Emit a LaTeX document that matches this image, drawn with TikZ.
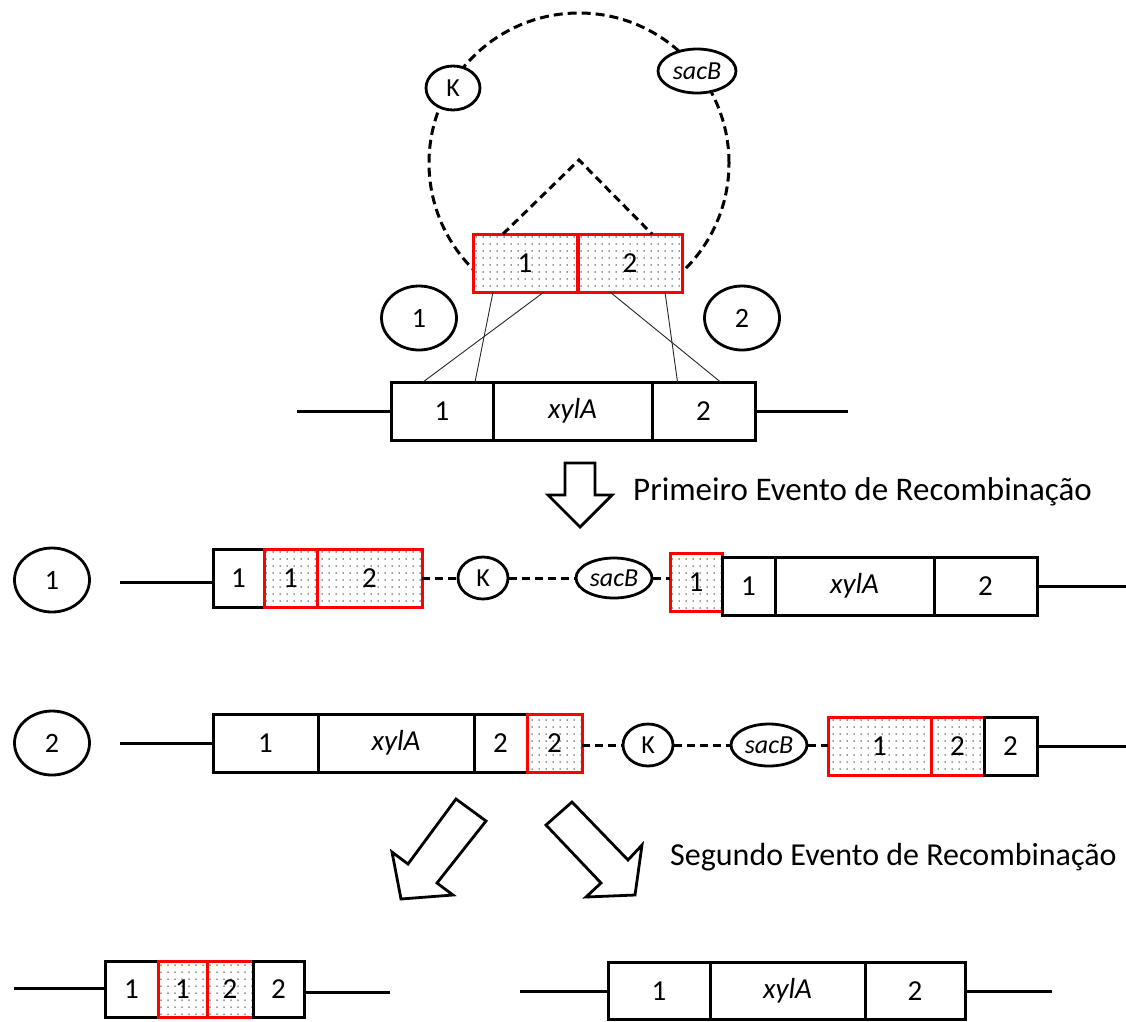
\documentclass[tikz,border=0pt]{standalone}
\usepackage{fontspec}
\setmainfont{Carlito}
\usetikzlibrary{shapes.geometric,patterns.meta}

\begin{document}
\begin{tikzpicture}[x=1pt,y=-1pt,
	box/.style={draw,line width=3pt,outer sep=0pt,inner sep=0pt,minimum height=58pt,fill=white,font=\fontsize{29}{34}\selectfont},
	redbox/.style={draw=red,line width=3pt,outer sep=0pt,inner sep=0pt,minimum height=58pt,preaction={fill=white},pattern={Dots[distance=7pt,radius=0.75pt]},pattern color=black!80,font=\fontsize{29}{34}\selectfont},
	oval/.style={draw,ellipse,line width=2.8pt,inner sep=0pt,fill=white,font=\fontsize{26}{30}\selectfont},
	tag/.style={draw,ellipse,line width=2.8pt,inner sep=0pt,minimum width=75pt,minimum height=64pt,font=\fontsize{28}{32}\selectfont},
	dna/.style={line width=3pt},
	dnadash/.style={line width=3pt,dash pattern=on 8pt off 5pt},
	link/.style={line width=0.9pt,black!85},
	hollow/.style={line width=2.8pt,line join=miter},
	caption/.style={anchor=west,inner sep=0pt,font=\fontsize{33}{40}\selectfont}]
		\useasboundingbox (0,0) rectangle (1126,1021);
			% plasmid
			\begin{scope}
				\clip (0,0) rectangle (1126,270);
				\draw[line width=3pt,dash pattern=on 9pt off 5pt] (579,163) circle (150pt);
			\end{scope}
			\node[oval,minimum width=54pt,minimum height=44pt] (k0) at (453,88) {K};
			\node[oval,minimum width=78pt,minimum height=44pt] (s0) at (697,71) {\textit{sacB}};
			\node[redbox,minimum width=104pt] (p1) at (525,263) {1};
			\node[redbox,minimum width=104pt] (p2) at (630,263) {2};
			\coordinate (apex) at (579,160);
			\draw[dnadash] ([xshift=-22pt]p1.north) -- (apex) -- ([xshift=22pt]p2.north);
				\node[tag] (c1) at (419,318) {1};
				\node[tag] (c2) at (742,318) {2};
			% chromosome
			\node[box,anchor=west,minimum width=102pt] (t1) at (391,411) {1};
			\node[box,anchor=west,minimum width=159pt] (tx) at (t1.east) {\textit{xylA}};
			\node[box,anchor=west,minimum width=103pt] (t2) at (tx.east) {2};
			\coordinate (tl) at (297,411);
			\coordinate (tr) at (848,411);
			\draw[dna] (tl) -- (t1.west);
			\draw[dna] (t2.east) -- (tr);
			\draw[link] ([xshift=-32pt]p1.south) -- ([xshift=33pt]t1.north);
			\draw[link] ([xshift=19pt]p1.south) -- ([xshift=-19pt]t1.north);
			\draw[link] ([xshift=-20pt]p2.south) -- ([xshift=17pt]t2.north);
			\draw[link] ([xshift=35pt]p2.south) -- ([xshift=-26pt]t2.north);
			% first event
			\draw[hollow] (565,463) -- (595,463) -- (595,495) -- (612,495) -- (580,527) -- (548,495) -- (565,495) -- cycle;
			\node[caption] (ev1) at (633,492) {Primeiro Evento de Recombinação};
				\node[tag] (r1) at (52,580) {1};
			\node[box,anchor=west,minimum width=51pt] (a1) at (213,578) {1};
			\node[redbox,anchor=west,minimum width=53pt] (a2) at (a1.east) {1};
			\node[redbox,anchor=west,minimum width=105pt] (a3) at (a2.east) {2};
			\node[oval,minimum width=50pt,minimum height=42pt] (a4) at (483,578) {K};
			\node[oval,minimum width=76pt,minimum height=40pt] (a5) at (614,578) {\textit{sacB}};
			\node[redbox,anchor=west,minimum width=52pt] (a6) at (670,582) {1};
			\node[box,anchor=west,minimum width=53pt] (a7) at (722,586) {1};
			\node[box,anchor=west,minimum width=159pt] (a8) at (a7.east) {\textit{xylA}};
			\node[box,anchor=west,minimum width=103pt] (a9) at (a8.east) {2};
			\coordinate (al) at (120,582);
			\coordinate (ar) at (1126,586);
			\draw[dna] (al) -- (al -| a1.west);
			\draw[dnadash] (a3.east) -- (a4.west);
			\draw[dnadash] (a4.east) -- (a5.west);
			\draw[dnadash] (a5.east) -- (a5.east -| a6.west);
			\draw[dna] (a9.east) -- (ar);
				\node[tag] (r2) at (52,743) {2};
			\node[box,anchor=west,minimum width=105pt] (b1) at (213,743) {1};
			\node[box,anchor=west,minimum width=156pt] (b2) at (b1.east) {\textit{xylA}};
			\node[box,anchor=west,minimum width=53pt] (b3) at (b2.east) {2};
			\node[redbox,anchor=west,minimum width=55pt] (b4) at (b3.east) {2};
			\node[oval,minimum width=50pt,minimum height=42pt] (b5) at (648,745) {K};
			\node[oval,minimum width=76pt,minimum height=42pt] (b6) at (769,745) {\textit{sacB}};
			\node[redbox,anchor=west,minimum width=103pt] (b7) at (828,746) {1};
			\node[redbox,anchor=west,minimum width=53pt] (b8) at (b7.east) {2};
			\node[box,anchor=west,minimum width=53pt] (b9) at (b8.east) {2};
			\coordinate (bl) at (120,743);
			\coordinate (br) at (1126,746);
			\draw[dna] (bl) -- (b1.west);
			\draw[dnadash] (b4.east |- b5.west) -- (b5.west);
			\draw[dnadash] (b5.east) -- (b6.west);
			\draw[dnadash] (b6.east) -- (b6.east -| b7.west);
			\draw[dna] (b9.east) -- (br);
			% second event
			\draw[hollow] (456,799) -- (486,821) -- (437,883) -- (453,895) -- (401,899) -- (392,852) -- (408,864) -- cycle;
			\draw[hollow] (572,802) -- (546,825) -- (601,883) -- (586,897) -- (635,895) -- (642,845) -- (628,860) -- cycle;
			\node[caption,font=\fontsize{32}{38}\selectfont] (ev2) at (670,857) {Segundo Evento de Recombinação};
			\node[box,anchor=west,minimum width=53pt,minimum height=56pt] (d1) at (105,989) {1};
			\node[redbox,anchor=west,minimum width=49pt,minimum height=56pt] (d2) at (d1.east) {1};
			\node[redbox,anchor=west,minimum width=46pt,minimum height=56pt] (d3) at (d2.east) {2};
			\node[box,anchor=west,minimum width=51pt,minimum height=56pt] (d4) at (d3.east) {2};
			\coordinate (dl) at (14,988);
			\coordinate (dr) at (390,992);
			\draw[dna] (dl) -- (dl -| d1.west);
			\draw[dna] (dr -| d4.east) -- (dr);
			\node[box,anchor=west,minimum width=102pt,minimum height=57pt] (e1) at (608,991) {1};
			\node[box,anchor=west,minimum width=155pt,minimum height=57pt] (e2) at (e1.east) {\textit{xylA}};
			\node[box,anchor=west,minimum width=100pt,minimum height=57pt] (e3) at (e2.east) {2};
			\coordinate (el) at (520,991);
			\coordinate (er) at (1052,991);
			\draw[dna] (el) -- (e1.west);
			\draw[dna] (e3.east) -- (er);
		\end{tikzpicture}
\end{document}
